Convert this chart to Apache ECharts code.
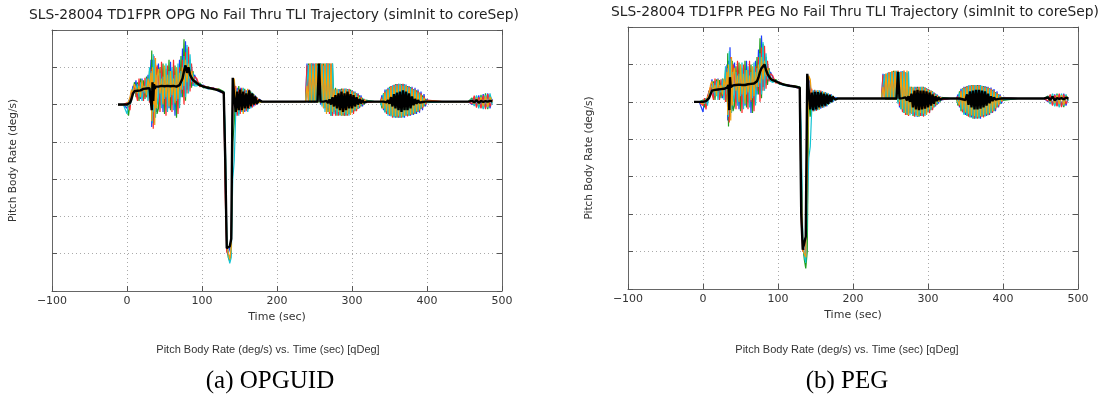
<!DOCTYPE html>
<html>
<head>
<meta charset="utf-8">
<script src="https://cdn.jsdelivr.net/npm/echarts@6/dist/echarts.min.js"></script>
<style>
  html, body { margin: 0; padding: 0; background: #fff; }
  #main { width: 1110px; height: 395px; }
</style>
</head>
<body>
<div id="main"></div>
<script>
// time samples (sec), shared by every run in both panels
var T = [
  -12, -5, 0, 2, 4, 6, 8, 10,
  12, 14, 16, 18, 20, 22, 24, 26, 28, 30, 32,
  33, 34, 35, 36, 37, 38, 39, 40,
  42, 44, 46, 48, 50, 52, 54, 56, 58, 60, 62, 64, 66, 68, 70, 72,
  74, 76, 78, 80, 82, 84, 86, 88, 90,
  93, 97, 102, 108, 115, 122, 129,
  131, 133, 135, 137, 139, 141,
  143, 145, 147, 149, 151, 153, 155, 157, 159, 161, 163, 165, 167, 169, 171, 173, 176, 180,
  200, 225, 238,
  240, 242, 244, 246, 248, 250, 252, 254, 256, 258, 260, 262, 264, 266, 268, 270, 272, 274, 276, 278,
  280, 282, 284, 286, 288, 290, 292, 294, 296, 298, 300, 302, 304, 306, 308, 310, 312, 314, 316, 318, 320,
  330, 338,
  340, 342, 344, 346, 348, 350, 352, 354, 356, 358, 360, 362, 364, 366, 368, 370, 372, 374, 376, 378, 380, 382, 384, 386, 388, 390, 392, 394, 396, 398, 400, 402,
  420, 445, 455,
  457, 460, 463, 466, 469, 472, 475, 478, 481, 484, 487
];

// ---- (a) OPGUID ----
var opgBlack = [
  0, 0, 0, 0.02, 0.05, 0.15, 0.3, 0.36,
  0.38, 0.37, 0.40, 0.38, 0.40, 0.42, 0.41, 0.43, 0.42, 0.44, 0.45,
  -0.15, 0.6, 0.1, 0.55, 0.42, 0.48, 0.45, 0.47,
  0.48, 0.46, 0.50, 0.47, 0.49, 0.48, 0.50, 0.47, 0.49, 0.48, 0.50, 0.49, 0.48, 0.50, 0.52, 0.55,
  0.7, 0.9, 1.05, 0.85, 1.0, 0.8, 0.72, 0.66, 0.62,
  0.58, 0.52, 0.48, 0.45, 0.42, 0.38, 0.32,
  -1.5, -3.85, -3.9, -3.8, -3.6, 0.72,
  0.2, -0.2, 0.35, -0.15, 0.4, -0.15, 0.35, -0.1, 0.3, -0.1, 0.38, -0.05, 0.3, 0.0, 0.22, 0.02, 0.12, 0.08,
  0.08, 0.08, 0.08,
  0.08, 0.08, 0.08, 0.08, 0.08, 0.08, 0.08, 0.08, 1.1, 0.08, 0.07, 0.08, 0.06, 0.1, 0.04, 0.14, 0.0, 0.2, -0.05, 0.25,
  -0.1, 0.3, -0.15, 0.35, -0.2, 0.3, -0.15, 0.35, -0.1, 0.28, -0.1, 0.25, -0.05, 0.2, 0.0, 0.15, 0.03, 0.12, 0.05, 0.1, 0.08,
  0.08, 0.08,
  0.08, 0.08, 0.1, 0.06, 0.12, 0.02, 0.2, -0.05, 0.28, -0.1, 0.32, -0.15, 0.35, -0.2, 0.38, -0.15, 0.35, -0.15, 0.3, -0.1, 0.22, -0.02, 0.15, 0.02, 0.12, 0.05, 0.1, 0.07, 0.09, 0.08, 0.08, 0.08,
  0.08, 0.08, 0.08,
  0.08, 0.1, 0.06, 0.12, 0.05, 0.1, 0.07, 0.09, 0.08, 0.1, 0.09
];
var opgRun1 = [
  0, 0, -0.1, 0.05, 0.1, 0.3, 0.5, 0.4,
  0.65, 0.2, 0.55, 0.15, 0.7, 0.25, 0.6, 0.2, 0.8, 0.3, 1.2,
  -0.6, 1.2, -0.3, 1.0, 0.0, 1.1, -0.2, 0.9,
  1.1, 0.0, 0.9, -0.2, 1.0, 0.1, 0.85, -0.1, 1.15, 0.0, 0.95, -0.3, 0.9, 0.0, 1.2, 0.2,
  1.5, 0.3, 1.7, 0.4, 1.3, 0.5, 1.0, 0.5, 0.8,
  0.65, 0.5, 0.52, 0.43, 0.45, 0.36, 0.3,
  -2.0, -3.9, -4.0, -3.95, -3.7, 0.5,
  0.6, -0.3, 0.45, -0.25, 0.45, -0.2, 0.4, -0.2, 0.38, -0.15, 0.4, -0.1, 0.3, -0.05, 0.25, 0.0, 0.15, 0.08,
  0.08, 0.08, 0.08,
  1.1, 0.05, 1.08, 0.05, 1.1, 0.05, 1.1, 0.05, 1.06, 0.0, 1.1, -0.1, 1.05, -0.2, 1.1, -0.25, 1.08, -0.3, 0.4, -0.25,
  0.4, -0.25, 0.42, -0.3, 0.4, -0.3, 0.43, -0.28, 0.4, -0.25, 0.38, -0.2, 0.35, -0.15, 0.3, -0.1, 0.25, -0.05, 0.15, 0.05, 0.08,
  0.08, 0.08,
  0.25, -0.15, 0.4, -0.2, 0.45, -0.3, 0.5, -0.3, 0.52, -0.35, 0.55, -0.35, 0.56, -0.33, 0.55, -0.35, 0.54, -0.3, 0.5, -0.3, 0.48, -0.28, 0.45, -0.25, 0.4, -0.22, 0.35, -0.15, 0.28, -0.05, 0.15, 0.08,
  0.08, 0.08, 0.08,
  0.12, 0.0, 0.2, -0.05, 0.25, -0.08, 0.28, -0.1, 0.3, -0.1, 0.15
];
var opgRun2 = [
  0, 0, 0.02, -0.3, 0.05, 0.2, 0.35, 0.6,
  0.2, 0.6, 0.1, 0.7, 0.2, 0.65, 0.15, 0.75, 0.25, 0.9, 0.1,
  1.45, -0.4, 1.1, -0.5, 0.9, -0.1, 1.0, -0.25,
  -0.1, 1.0, 0.1, 1.1, -0.25, 0.95, 0.0, 1.2, -0.15, 0.9, 0.1, 1.05, -0.35, 0.8, 0.05, 1.3,
  0.2, 1.75, 0.1, 1.5, 0.4, 1.2, 0.45, 0.9, 0.55,
  0.55, 0.58, 0.45, 0.48, 0.4, 0.42, 0.35,
  -1.0, -3.7, -4.1, -4.2, -3.9, -1.0,
  -0.5, 0.4, -0.25, 0.5, -0.2, 0.42, -0.2, 0.42, -0.15, 0.35, -0.12, 0.35, -0.05, 0.28, 0.0, 0.2, 0.05, 0.08,
  0.08, 0.08, 0.08,
  0.05, 1.1, 0.05, 1.1, 0.05, 1.08, 0.05, 1.1, 0.05, 1.1, 0.0, 1.1, -0.1, 1.1, -0.2, 1.1, -0.3, 1.1, -0.2, 0.45,
  -0.3, 0.4, -0.28, 0.43, -0.3, 0.4, -0.3, 0.42, -0.25, 0.4, -0.22, 0.35, -0.18, 0.3, -0.12, 0.25, -0.05, 0.18, 0.0, 0.12, 0.08,
  0.08, 0.08,
  -0.1, 0.3, -0.2, 0.4, -0.25, 0.48, -0.3, 0.5, -0.33, 0.55, -0.35, 0.56, -0.35, 0.55, -0.33, 0.52, -0.3, 0.5, -0.3, 0.47, -0.27, 0.42, -0.25, 0.38, -0.2, 0.32, -0.12, 0.25, -0.05, 0.15, 0.05, 0.08,
  0.08, 0.08, 0.08,
  0.05, 0.18, -0.02, 0.22, -0.06, 0.26, -0.1, 0.3, -0.12, 0.25, 0.05
];
var opgRun3 = [
  0, 0, 0.05, 0.0, -0.15, 0.35, 0.25, 0.5,
  0.45, 0.1, 0.7, 0.3, 0.5, 0.1, 0.72, 0.2, 0.6, 0.05, 0.95,
  -0.2, 0.8, -0.65, 1.3, -0.3, 0.7, 0.1, 1.05,
  0.8, -0.2, 1.15, 0.05, 0.7, -0.3, 1.05, 0.1, 0.85, -0.2, 1.2, 0.0, 0.75, -0.25, 1.0, 0.3,
  1.2, 0.0, 1.4, 0.3, 1.55, 0.35, 1.1, 0.55, 0.75,
  0.7, 0.48, 0.5, 0.46, 0.44, 0.4, 0.28,
  -2.5, -3.95, -3.9, -4.1, -4.0, 0.3,
  0.3, 0.5, -0.3, 0.4, -0.25, 0.45, -0.15, 0.38, -0.18, 0.4, -0.1, 0.3, -0.08, 0.25, -0.02, 0.18, 0.1, 0.08,
  0.08, 0.08, 0.08,
  1.05, 0.1, 1.1, 0.08, 1.1, 0.06, 1.1, 0.1, 1.1, 0.05, 1.08, 0.0, 1.1, -0.15, 1.1, -0.25, 1.1, -0.3, 0.38, -0.3,
  0.35, -0.3, 0.4, -0.25, 0.43, -0.3, 0.38, -0.3, 0.42, -0.2, 0.36, -0.25, 0.3, -0.18, 0.28, -0.08, 0.2, 0.0, 0.14, 0.06, 0.08,
  0.08, 0.08,
  0.2, -0.12, 0.35, -0.25, 0.42, -0.28, 0.5, -0.35, 0.53, -0.3, 0.55, -0.34, 0.52, -0.35, 0.56, -0.3, 0.5, -0.32, 0.48, -0.28, 0.45, -0.25, 0.4, -0.2, 0.36, -0.18, 0.3, -0.1, 0.22, 0.0, 0.12, 0.08,
  0.08, 0.08, 0.08,
  0.1, 0.02, 0.24, -0.08, 0.2, -0.1, 0.25, -0.12, 0.28, -0.05, 0.12
];
var opgRun4 = [
  0, 0, -0.25, 0.1, 0.0, 0.1, 0.45, 0.3,
  0.3, 0.55, 0.2, 0.6, 0.1, 0.5, 0.3, 0.7, 0.1, 1.0, 0.3,
  0.9, -0.5, 1.35, -0.2, 1.2, -0.35, 0.8, 0.0,
  0.2, 0.85, -0.1, 0.75, 0.15, 1.1, -0.2, 0.9, 0.2, 1.0, -0.15, 0.8, 0.1, 1.1, -0.1, 0.9,
  0.4, 1.3, 0.2, 1.6, 0.3, 1.35, 0.6, 0.85, 0.5,
  0.5, 0.55, 0.47, 0.42, 0.43, 0.37, 0.34,
  -0.8, -3.5, -4.05, -4.26, -4.1, -2.0,
  -1.5, -0.2, 0.4, -0.3, 0.35, -0.2, 0.45, -0.15, 0.35, -0.2, 0.3, -0.1, 0.32, 0.0, 0.2, 0.05, 0.12, 0.08,
  0.08, 0.08, 0.08,
  0.08, 1.06, 0.06, 1.1, 0.1, 1.1, 0.08, 1.05, 0.1, 1.1, -0.05, 1.05, -0.2, 1.1, -0.1, 1.08, -0.3, 1.1, -0.25, 0.4,
  -0.28, 0.42, -0.3, 0.38, -0.25, 0.43, -0.28, 0.4, -0.3, 0.36, -0.2, 0.33, -0.15, 0.28, -0.1, 0.2, -0.02, 0.15, 0.02, 0.1, 0.08,
  0.08, 0.08,
  -0.05, 0.28, -0.22, 0.38, -0.3, 0.45, -0.32, 0.52, -0.35, 0.54, -0.3, 0.55, -0.35, 0.53, -0.35, 0.55, -0.28, 0.48, -0.3, 0.45, -0.26, 0.4, -0.22, 0.35, -0.18, 0.3, -0.1, 0.2, -0.02, 0.12, 0.06, 0.08,
  0.08, 0.08, 0.08,
  0.06, 0.15, -0.04, 0.25, -0.1, 0.22, -0.12, 0.26, -0.08, 0.3, 0.0
];
var opgRun5 = [
  0, 0, 0.0, 0.08, 0.2, 0.4, 0.3, 0.55,
  0.6, 0.3, 0.5, 0.2, 0.65, 0.35, 0.5, 0.25, 0.7, 0.4, 0.85,
  -0.45, 1.0, 0.0, 0.6, -0.55, 1.25, -0.1, 0.7,
  0.95, 0.3, 0.7, 0.0, 1.05, 0.2, 0.8, -0.05, 0.9, 0.25, 0.7, 0.05, 1.0, 0.15, 0.85, 0.4,
  1.0, 0.5, 1.2, 0.6, 1.1, 0.7, 0.9, 0.7, 0.65,
  0.6, 0.5, 0.5, 0.44, 0.41, 0.39, 0.31,
  -1.8, -3.8, -3.95, -4.15, -3.85, 0.6,
  0.7, 0.1, -0.2, 0.3, -0.1, 0.4, -0.25, 0.3, -0.1, 0.42, -0.05, 0.28, 0.0, 0.22, 0.02, 0.15, 0.06, 0.08,
  0.08, 0.08, 0.08,
  0.5, 0.08, 1.1, 0.05, 1.05, 0.1, 1.1, 0.05, 1.1, 0.08, 1.1, -0.1, 1.1, -0.25, 1.1, -0.2, 1.1, -0.2, 0.42, -0.15,
  0.42, -0.2, 0.36, -0.3, 0.4, -0.22, 0.42, -0.25, 0.38, -0.28, 0.35, -0.15, 0.32, -0.12, 0.22, -0.04, 0.18, 0.02, 0.12, 0.07, 0.08,
  0.08, 0.08,
  0.15, -0.1, 0.32, -0.18, 0.4, -0.26, 0.48, -0.3, 0.5, -0.32, 0.52, -0.3, 0.54, -0.32, 0.5, -0.3, 0.52, -0.26, 0.46, -0.25, 0.42, -0.22, 0.38, -0.18, 0.32, -0.14, 0.26, -0.06, 0.18, 0.02, 0.1, 0.08,
  0.08, 0.08, 0.08,
  0.09, 0.12, 0.02, 0.18, 0.0, 0.2, -0.05, 0.22, -0.06, 0.2, 0.08
];

// ---- (b) PEG ----
var pegBlack = [
  0, 0, 0, 0.0, 0.02, 0.05, 0.1, 0.2,
  0.3, 0.31, 0.32, 0.3, 0.33, 0.32, 0.34, 0.33, 0.35, 0.36, 0.38,
  0.4, 0.45, -0.22, 0.66, 0.4, 0.45, 0.42, 0.44,
  0.43, 0.45, 0.44, 0.46, 0.44, 0.45, 0.47, 0.45, 0.46, 0.47, 0.46, 0.48, 0.47, 0.49, 0.5, 0.55,
  0.65, 0.8, 0.9, 0.95, 1.0, 0.85, 0.75, 0.68, 0.62,
  0.58, 0.55, 0.5, 0.46, 0.43, 0.41, 0.38,
  -3.0, -3.95, -4.0, -3.6, 0.75, 0.3,
  -0.2, 0.25, -0.22, 0.27, -0.2, 0.26, -0.15, 0.25, -0.12, 0.22, -0.1, 0.2, -0.05, 0.18, 0.0, 0.14, 0.06, 0.09,
  0.09, 0.09, 0.09,
  0.09, 0.09, 0.09, 0.09, 0.09, 0.09, 0.09, 0.09, 0.09, 0.09, 0.8, 0.09, 0.07, 0.1, 0.06, 0.12, 0.04, 0.15, 0.0, 0.22,
  -0.15, 0.3, -0.2, 0.32, -0.22, 0.3, -0.2, 0.3, -0.18, 0.28, -0.15, 0.25, -0.1, 0.2, -0.05, 0.15, 0.02, 0.12, 0.06, 0.1, 0.09,
  0.09, 0.09,
  0.09, 0.09, 0.1, 0.07, 0.12, 0.05, 0.2, -0.08, 0.28, -0.15, 0.3, -0.2, 0.32, -0.2, 0.32, -0.18, 0.3, -0.15, 0.28, -0.1, 0.22, -0.04, 0.15, 0.02, 0.12, 0.06, 0.1, 0.08, 0.09, 0.09, 0.09, 0.09,
  0.09, 0.09, 0.09,
  0.09, 0.12, 0.05, 0.14, 0.04, 0.1, 0.08, 0.1, 0.07, 0.11, 0.09
];
var pegRun1 = [
  0, 0, -0.27, 0.05, 0.0, 0.1, 0.2, 0.35,
  0.6, 0.1, 0.55, 0.2, 0.62, 0.15, 0.5, 0.1, 0.6, 0.25, 1.0,
  -0.5, 1.1, -0.3, 1.46, 0.0, 1.0, -0.2, 0.9,
  1.05, 0.0, 0.85, -0.2, 0.95, 0.1, 0.8, -0.1, 1.1, 0.0, 0.9, -0.3, 0.85, 0.0, 1.1, 0.2,
  1.4, 0.3, 1.77, 0.4, 1.3, 0.5, 1.0, 0.55, 0.8,
  0.65, 0.52, 0.52, 0.44, 0.45, 0.39, 0.36,
  -2.5, -3.9, -4.1, -4.2, -1.0, 0.6,
  0.5, -0.25, 0.3, -0.22, 0.3, -0.2, 0.3, -0.18, 0.28, -0.15, 0.26, -0.12, 0.22, -0.05, 0.2, 0.0, 0.12, 0.09,
  0.09, 0.09, 0.09,
  0.75, 0.08, 0.72, 0.06, 0.78, 0.08, 0.8, 0.05, 0.82, 0.08, 0.8, -0.15, 0.82, -0.25, 0.8, -0.3, 0.78, -0.35, 0.38, -0.3,
  0.38, -0.35, 0.4, -0.4, 0.38, -0.38, 0.4, -0.36, 0.38, -0.32, 0.35, -0.28, 0.3, -0.2, 0.25, -0.12, 0.2, -0.05, 0.14, 0.05, 0.09,
  0.09, 0.09,
  0.2, -0.15, 0.35, -0.25, 0.4, -0.35, 0.42, -0.38, 0.44, -0.42, 0.45, -0.45, 0.45, -0.43, 0.44, -0.45, 0.43, -0.4, 0.42, -0.38, 0.4, -0.35, 0.38, -0.3, 0.34, -0.25, 0.28, -0.15, 0.2, -0.05, 0.12, 0.09,
  0.09, 0.09, 0.09,
  0.12, 0.0, 0.18, -0.08, 0.2, -0.1, 0.2, -0.12, 0.22, -0.1, 0.12
];
var pegRun2 = [
  0, 0, 0.05, -0.15, 0.08, 0.0, 0.3, 0.2,
  0.15, 0.55, 0.05, 0.6, 0.2, 0.58, 0.1, 0.62, 0.2, 0.85, 0.0,
  1.3, -0.66, 1.0, -0.4, 0.9, -0.1, 1.1, -0.25,
  -0.1, 0.95, 0.1, 1.05, -0.25, 0.9, 0.0, 1.1, -0.15, 0.85, 0.1, 1.0, -0.3, 0.8, 0.05, 1.2,
  0.2, 1.7, 0.1, 1.55, 0.4, 1.2, 0.45, 0.9, 0.6,
  0.55, 0.6, 0.47, 0.48, 0.41, 0.43, 0.4,
  -1.5, -3.8, -4.2, -4.45, -4.0, 0.2,
  -0.4, 0.3, -0.25, 0.32, -0.22, 0.3, -0.2, 0.28, -0.16, 0.26, -0.12, 0.24, -0.08, 0.2, -0.02, 0.16, 0.06, 0.09,
  0.09, 0.09, 0.09,
  0.08, 0.7, 0.06, 0.76, 0.05, 0.8, 0.06, 0.83, 0.05, 0.82, 0.0, 0.8, -0.2, 0.82, -0.3, 0.8, -0.35, 0.4, -0.3, 0.4,
  -0.38, 0.38, -0.36, 0.4, -0.4, 0.38, -0.38, 0.4, -0.32, 0.36, -0.28, 0.32, -0.22, 0.28, -0.15, 0.22, -0.08, 0.16, 0.0, 0.12, 0.09,
  0.09, 0.09,
  -0.1, 0.28, -0.25, 0.36, -0.32, 0.4, -0.38, 0.42, -0.42, 0.44, -0.45, 0.45, -0.44, 0.45, -0.43, 0.44, -0.4, 0.42, -0.38, 0.4, -0.36, 0.36, -0.3, 0.32, -0.25, 0.26, -0.15, 0.2, -0.06, 0.13, 0.04, 0.09,
  0.09, 0.09, 0.09,
  0.05, 0.16, -0.05, 0.2, -0.1, 0.22, -0.12, 0.2, -0.14, 0.18, 0.05
];
var pegRun3 = [
  0, 0, -0.1, 0.1, -0.2, 0.15, 0.1, 0.4,
  0.4, 0.05, 0.62, 0.25, 0.45, 0.05, 0.6, 0.15, 0.5, 0.0, 0.9,
  -0.2, 0.8, -0.55, 1.2, -0.3, 0.7, 0.1, 1.0,
  0.75, -0.2, 1.1, 0.05, 0.7, -0.3, 1.0, 0.1, 0.8, -0.2, 1.1, 0.0, 0.75, -0.25, 0.95, 0.3,
  1.2, 0.0, 1.45, 0.3, 1.5, 0.35, 1.1, 0.55, 0.75,
  0.7, 0.5, 0.53, 0.45, 0.44, 0.42, 0.35,
  -3.2, -4.0, -4.05, -3.9, 0.5, 0.3,
  0.2, 0.35, -0.25, 0.3, -0.24, 0.28, -0.18, 0.3, -0.15, 0.25, -0.12, 0.22, -0.06, 0.2, 0.0, 0.15, 0.08, 0.09,
  0.09, 0.09, 0.09,
  0.72, 0.1, 0.75, 0.08, 0.8, 0.06, 0.82, 0.1, 0.8, 0.05, 0.84, -0.1, 0.8, -0.28, 0.84, -0.35, 0.38, -0.38, 0.4, -0.32,
  0.34, -0.4, 0.38, -0.35, 0.4, -0.38, 0.36, -0.4, 0.38, -0.28, 0.34, -0.3, 0.28, -0.22, 0.24, -0.1, 0.18, 0.0, 0.13, 0.06, 0.09,
  0.09, 0.09,
  0.15, -0.12, 0.3, -0.28, 0.38, -0.3, 0.42, -0.4, 0.43, -0.38, 0.45, -0.44, 0.42, -0.45, 0.45, -0.4, 0.4, -0.42, 0.4, -0.36, 0.38, -0.34, 0.35, -0.28, 0.3, -0.2, 0.24, -0.12, 0.16, 0.0, 0.1, 0.09,
  0.09, 0.09, 0.09,
  0.1, 0.02, 0.2, -0.1, 0.18, -0.12, 0.22, -0.14, 0.2, -0.06, 0.1
];
var pegRun4 = [
  0, 0, 0.02, -0.05, 0.1, -0.1, 0.25, 0.3,
  0.25, 0.5, 0.15, 0.55, 0.05, 0.45, 0.25, 0.6, 0.05, 0.95, 0.2,
  0.9, -0.4, 1.35, -0.2, 1.15, -0.3, 0.8, 0.0,
  0.2, 0.8, -0.1, 0.75, 0.15, 1.05, -0.2, 0.85, 0.2, 0.95, -0.15, 0.8, 0.1, 1.05, -0.1, 0.9,
  0.4, 1.3, 0.2, 1.6, 0.3, 1.3, 0.6, 0.85, 0.55,
  0.52, 0.57, 0.48, 0.44, 0.42, 0.4, 0.39,
  -0.8, -3.6, -4.1, -4.3, -4.35, -1.5,
  -1.2, -0.2, 0.3, -0.25, 0.28, -0.22, 0.3, -0.15, 0.28, -0.14, 0.24, -0.1, 0.22, -0.02, 0.18, 0.02, 0.1, 0.09,
  0.09, 0.09, 0.09,
  0.08, 0.74, 0.06, 0.78, 0.1, 0.8, 0.08, 0.8, 0.1, 0.83, -0.05, 0.8, -0.2, 0.82, -0.3, 0.8, -0.32, 0.82, -0.36, 0.38,
  -0.35, 0.4, -0.4, 0.36, -0.35, 0.4, -0.38, 0.38, -0.38, 0.34, -0.26, 0.3, -0.2, 0.26, -0.12, 0.2, -0.04, 0.14, 0.02, 0.1, 0.09,
  0.09, 0.09,
  -0.05, 0.25, -0.2, 0.34, -0.35, 0.38, -0.36, 0.44, -0.4, 0.42, -0.42, 0.45, -0.45, 0.43, -0.45, 0.45, -0.38, 0.4, -0.4, 0.38, -0.34, 0.34, -0.3, 0.3, -0.22, 0.25, -0.12, 0.18, -0.03, 0.12, 0.06, 0.09,
  0.09, 0.09, 0.09,
  0.06, 0.14, -0.06, 0.22, -0.12, 0.2, -0.15, 0.22, -0.1, 0.2, 0.02
];
var pegRun5 = [
  0, 0, -0.05, 0.0, 0.05, 0.12, 0.18, 0.45,
  0.55, 0.25, 0.45, 0.15, 0.6, 0.3, 0.45, 0.2, 0.62, 0.35, 0.8,
  -0.35, 1.0, 0.0, 0.6, -0.5, 1.2, -0.1, 0.7,
  0.9, 0.3, 0.7, 0.0, 1.0, 0.2, 0.75, -0.05, 0.85, 0.25, 0.7, 0.05, 0.95, 0.15, 0.8, 0.4,
  1.0, 0.5, 1.2, 0.6, 1.1, 0.7, 0.9, 0.7, 0.65,
  0.6, 0.53, 0.5, 0.47, 0.43, 0.4, 0.37,
  -2.0, -3.95, -4.0, -4.15, -2.0, 0.7,
  0.6, 0.1, -0.2, 0.26, -0.15, 0.3, -0.2, 0.26, -0.12, 0.27, -0.08, 0.2, -0.04, 0.18, 0.02, 0.12, 0.07, 0.09,
  0.09, 0.09, 0.09,
  0.4, 0.08, 0.76, 0.05, 0.78, 0.1, 0.82, 0.05, 0.84, 0.08, 0.82, 0.0, 0.8, -0.2, 0.82, -0.3, 0.84, -0.35, 0.4, -0.3,
  0.4, -0.28, 0.35, -0.38, 0.38, -0.3, 0.4, -0.32, 0.36, -0.35, 0.32, -0.2, 0.3, -0.15, 0.2, -0.06, 0.16, 0.0, 0.11, 0.07, 0.09,
  0.09, 0.09,
  0.1, -0.08, 0.28, -0.2, 0.36, -0.28, 0.4, -0.32, 0.42, -0.36, 0.44, -0.38, 0.44, -0.4, 0.42, -0.38, 0.42, -0.35, 0.38, -0.32, 0.36, -0.3, 0.33, -0.24, 0.28, -0.16, 0.22, -0.08, 0.15, 0.02, 0.1, 0.09,
  0.09, 0.09, 0.09,
  0.09, 0.12, 0.0, 0.16, -0.04, 0.18, -0.06, 0.18, -0.08, 0.15, 0.08
];

var runColors = ['#1a3cff', '#1fa01f', '#ff2a2a', '#14c4d4', '#f0a010'];

function pts(vals) {
    if (vals.length !== T.length) console.error('length mismatch', vals.length, T.length);
    return T.map(function (t, i) { return [t, vals[i]]; });
}

function minusSign(v) {
    return String(v).replace('-', '\u2212');
}

function xAx(g, pos) {
    var bottom = pos === 'bottom';
    return {
        type: 'value', gridIndex: g, position: pos,
        min: -100, max: 500, interval: 100,
        name: bottom ? 'Time (sec)' : '',
        nameLocation: 'middle', nameGap: 18,
        nameTextStyle: { fontFamily: 'DejaVu Sans', fontSize: 11, color: '#333' },
        axisLine: { show: true, onZero: false, lineStyle: { color: '#666', width: 1 } },
        axisTick: { show: true, inside: true, length: 5, lineStyle: { color: '#555' } },
        axisLabel: { show: bottom, margin: 5, fontFamily: 'DejaVu Sans', fontSize: 11, color: '#333', formatter: minusSign },
        splitLine: { show: bottom, lineStyle: { color: '#aaa', type: [1, 3] } }
    };
}

function yAx(g, pos) {
    var left = pos === 'left';
    return {
        type: 'value', gridIndex: g, position: pos,
        min: -5, max: 2, interval: 1,
        name: left ? 'Pitch Body Rate (deg/s)' : '',
        nameLocation: 'middle', nameGap: 33, nameRotate: 90,
        nameTextStyle: { fontFamily: 'DejaVu Sans', fontSize: 10.5, color: '#333' },
        axisLine: { show: true, onZero: false, lineStyle: { color: '#666', width: 1 } },
        axisTick: { show: true, inside: true, length: 5, lineStyle: { color: '#555' } },
        axisLabel: { show: false },
        splitLine: { show: left, lineStyle: { color: '#aaa', type: [1, 3] } }
    };
}

function panelSeries(runs, black, xi, yi) {
    var out = [];
    runs.forEach(function (r, k) {
        out.push({
            type: 'line', xAxisIndex: xi, yAxisIndex: yi,
            data: pts(r), showSymbol: false, silent: true,
            lineStyle: { color: runColors[k], width: 1.2 }
        });
    });
    out.push({
        type: 'line', xAxisIndex: xi, yAxisIndex: yi,
        data: pts(black), showSymbol: false, silent: true,
        lineStyle: { color: '#000', width: 2.4 }
    });
    return out;
}

function label(x, y, text, font, color) {
    return {
        type: 'text', x: x, y: y, silent: true,
        style: { text: text, font: font, fill: color, align: 'center', verticalAlign: 'middle' }
    };
}

var myChart = echarts.init(document.getElementById('main'));
var option = {
    animation: false,
    backgroundColor: '#fff',
    grid: [
        { left: 52, top: 30, width: 450, height: 261 },
        { left: 628, top: 27, width: 450, height: 262 }
    ],
    xAxis: [xAx(0, 'bottom'), xAx(0, 'top'), xAx(1, 'bottom'), xAx(1, 'top')],
    yAxis: [yAx(0, 'left'), yAx(0, 'right'), yAx(1, 'left'), yAx(1, 'right')],
    series: panelSeries([opgRun1, opgRun2, opgRun3, opgRun4, opgRun5], opgBlack, 0, 0)
        .concat(panelSeries([pegRun1, pegRun2, pegRun3, pegRun4, pegRun5], pegBlack, 2, 2)),
    graphic: [
        label(274, 15, 'SLS-28004 TD1FPR OPG No Fail Thru TLI Trajectory (simInit to coreSep)', '13.8px "DejaVu Sans"', '#222'),
        label(855, 12, 'SLS-28004 TD1FPR PEG No Fail Thru TLI Trajectory (simInit to coreSep)', '13.8px "DejaVu Sans"', '#222'),
        label(268, 350, 'Pitch Body Rate (deg/s) vs. Time (sec) [qDeg]', '11px "Liberation Sans"', '#333'),
        label(847, 350, 'Pitch Body Rate (deg/s) vs. Time (sec) [qDeg]', '11px "Liberation Sans"', '#333'),
        label(270, 381, '(a) OPGUID', '25px "Liberation Serif"', '#000'),
        label(847, 381, '(b) PEG', '25px "Liberation Serif"', '#000')
    ]
};
myChart.setOption(option);
</script>
</body>
</html>
